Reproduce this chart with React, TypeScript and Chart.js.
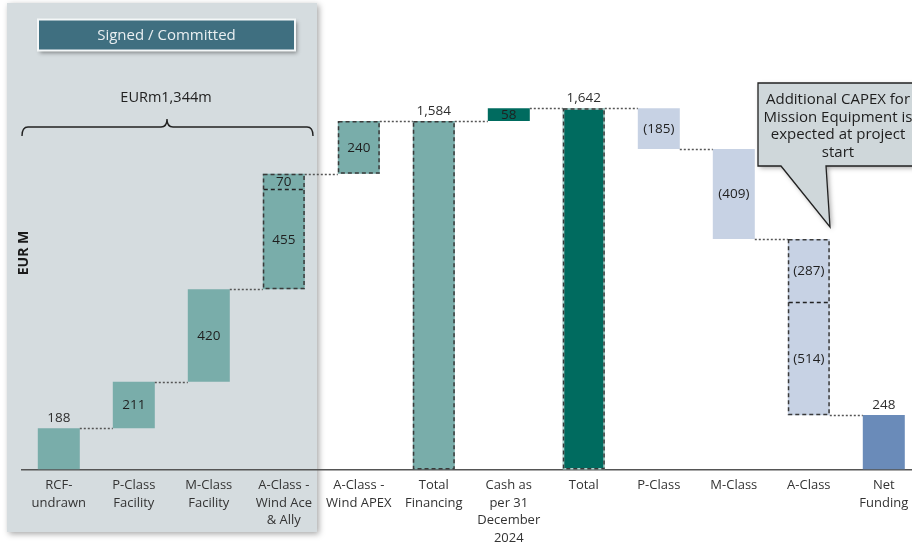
import { useEffect, useRef } from "react";
import { Chart, registerables } from "chart.js";

Chart.register(...registerables);

// Category labels (multi-line)
const categories: string[][] = [
  ["RCF-", "undrawn"],
  ["P-Class", "Facility"],
  ["M-Class", "Facility"],
  ["A-Class -", "Wind Ace", "& Ally"],
  ["A-Class -", "Wind APEX"],
  ["Total", "Financing"],
  ["Cash as", "per 31", "December", "2024"],
  ["Total"],
  ["P-Class"],
  ["M-Class"],
  ["A-Class"],
  ["Net", "Funding"],
];

// Step changes of the waterfall (EUR m); 0 where the bar is a total
const changes = [188, 211, 420, 455, 240, 0, 58, 0, -185, -409, -287, 0];
// Second stacked segment on the same column (A-Class splits)
const secondChanges = [0, 0, 0, 70, 0, 0, 0, 0, 0, 0, -514, 0];
// Totals drawn from the baseline
const totals: (number | null)[] = [null, null, null, null, null, 1584, null, 1642, null, null, null, 248];

const committedLabel = "EURm1,344m";
const panelTitle = "Signed / Committed";
const yAxisTitle = "EUR M";
const calloutLines = ["Additional CAPEX for", "Mission Equipment is", "expected at project", "start"];
const yMax = 2134;

// Styling per column
const fills = [
  "#79adaa", "#79adaa", "#79adaa", "#79adaa", "#79adaa", "#79adaa",
  "#006b5f", "#006b5f",
  "#c7d2e4", "#c7d2e4", "#c7d2e4",
  "#6a8bb9",
];
const dashed = [false, false, false, true, true, true, false, true, false, false, true, false];
const labelAbove = [true, false, false, false, false, true, false, true, false, false, false, true];

const W = 940;
const H = 545;
const FONT = "'Open Sans', 'DejaVu Sans', sans-serif";

function fmt(v: number) {
  return v < 0 ? `(${Math.abs(v).toLocaleString("en-US")})` : v.toLocaleString("en-US");
}

export default function App() {
  const ref = useRef<HTMLCanvasElement | null>(null);

  useEffect(() => {
    const canvas = ref.current;
    if (!canvas) return;

    // Build floating ranges for the waterfall
    const main: [number, number][] = [];
    const second: ([number, number] | null)[] = [];
    const ends: number[] = [];
    const mainVals: number[] = [];
    let run = 0;
    categories.forEach((_, i) => {
      const t = totals[i];
      if (t !== null) {
        main.push([0, t]);
        mainVals.push(t);
        second.push(null);
        run = t;
      } else {
        main.push([run, run + changes[i]]);
        mainVals.push(changes[i]);
        run += changes[i];
        if (secondChanges[i]) {
          second.push([run, run + secondChanges[i]]);
          run += secondChanges[i];
        } else {
          second.push(null);
        }
      }
      ends.push(run);
    });

    const backdrop = {
      id: "backdrop",
      beforeDraw(chart: any) {
        const ctx = chart.ctx;
        ctx.save();
        ctx.fillStyle = "#ffffff";
        ctx.fillRect(0, 0, W, H);
        // committed panel
        ctx.shadowColor = "rgba(0,0,0,0.35)";
        ctx.shadowBlur = 6;
        ctx.shadowOffsetX = 2;
        ctx.shadowOffsetY = 2;
        ctx.fillStyle = "#d5dcdf";
        ctx.fillRect(7, 3, 310, 529);
        // title box
        ctx.shadowColor = "rgba(0,0,0,0.4)";
        ctx.shadowBlur = 4;
        ctx.fillStyle = "#3f6f80";
        ctx.fillRect(38, 19.5, 257, 31);
        ctx.shadowColor = "transparent";
        ctx.strokeStyle = "#f4f7f8";
        ctx.lineWidth = 2;
        ctx.strokeRect(38, 19.5, 257, 31);
        ctx.fillStyle = "#e9eff1";
        ctx.font = `15px ${FONT}`;
        ctx.textAlign = "center";
        ctx.textBaseline = "middle";
        ctx.fillText(panelTitle, 166.5, 35.5);
        // total committed label and brace
        ctx.fillStyle = "#222";
        ctx.font = `14.5px ${FONT}`;
        ctx.fillText(committedLabel, 166, 98);
        ctx.strokeStyle = "#222";
        ctx.lineWidth = 1.4;
        ctx.beginPath();
        ctx.moveTo(22, 136);
        ctx.quadraticCurveTo(22, 127, 28, 127);
        ctx.lineTo(161, 127);
        ctx.quadraticCurveTo(167, 127, 167, 119);
        ctx.quadraticCurveTo(167, 127, 173, 127);
        ctx.lineTo(307, 127);
        ctx.quadraticCurveTo(313, 127, 313, 136);
        ctx.stroke();
        // y axis title
        ctx.save();
        ctx.translate(24.5, 253);
        ctx.rotate(-Math.PI / 2);
        ctx.font = `bold 14px ${FONT}`;
        ctx.fillStyle = "#1a1a1a";
        ctx.fillText(yAxisTitle, 0, 0);
        ctx.restore();
        ctx.restore();
      },
    };

    const overlay = {
      id: "overlay",
      afterDatasetsDraw(chart: any) {
        const ctx = chart.ctx;
        const y = chart.scales.y;
        const m0 = chart.getDatasetMeta(0).data;
        const m1 = chart.getDatasetMeta(1).data;
        ctx.save();

        // connectors between columns
        ctx.strokeStyle = "#555";
        ctx.lineWidth = 1.5;
        ctx.setLineDash([2, 2]);
        for (let i = 0; i < categories.length - 1; i++) {
          const a = m0[i].getProps(["x", "width"], true);
          const b = m0[i + 1].getProps(["x", "width"], true);
          const py = Math.round(y.getPixelForValue(ends[i])) + 0.5;
          ctx.beginPath();
          ctx.moveTo(a.x + a.width / 2, py);
          ctx.lineTo(b.x - b.width / 2, py);
          ctx.stroke();
        }

        // dashed outlines around the whole column, with a dashed divider between segments
        const box = (el: any) => {
          const p = el.getProps(["x", "y", "base", "width"], true);
          return { l: p.x - p.width / 2, r: p.x + p.width / 2, t: Math.min(p.y, p.base), b: Math.max(p.y, p.base) };
        };
        categories.forEach((_, i) => {
          if (!dashed[i]) return;
          const a = box(m0[i]);
          let l = a.l, r = a.r, t = a.t, b = a.b;
          let divider: number | null = null;
          if (second[i]) {
            const s = box(m1[i]);
            t = Math.min(t, s.t);
            b = Math.max(b, s.b);
            divider = Math.round(y.getPixelForValue(second[i]![0])) + 0.5;
          }
          ctx.lineWidth = 1.5;
          if (fills[i] === "#006b5f") {
            ctx.setLineDash([]);
            ctx.strokeStyle = "rgba(235,245,243,0.75)";
            ctx.strokeRect(l + 0.75, t + 0.75, r - l - 1.5, b - t - 1.5);
          }
          ctx.setLineDash([4, 3]);
          ctx.strokeStyle = "#3a3a3a";
          ctx.strokeRect(l + 0.75, t + 0.75, r - l - 1.5, b - t - 1.5);
          if (divider !== null) {
            ctx.strokeStyle = "#222";
            ctx.beginPath();
            ctx.moveTo(l + 1, divider);
            ctx.lineTo(r - 1, divider);
            ctx.stroke();
          }
        });
        ctx.setLineDash([]);

        // value labels
        ctx.font = `13.5px ${FONT}`;
        ctx.textAlign = "center";
        const label = (el: any, v: number, above: boolean) => {
          const p = el.getProps(["x", "y", "base"], true);
          const top = Math.min(p.y, p.base);
          if (above) {
            ctx.fillStyle = "#2e2e2e";
            ctx.textBaseline = "bottom";
            ctx.fillText(fmt(v), p.x, top - 3);
          } else {
            ctx.fillStyle = "#1f1f1f";
            ctx.textBaseline = "middle";
            ctx.fillText(fmt(v), p.x, (p.y + p.base) / 2 + 0.5);
          }
        };
        categories.forEach((_, i) => {
          label(m0[i], mainVals[i], labelAbove[i]);
          if (second[i]) label(m1[i], secondChanges[i], false);
        });
        ctx.restore();
      },
      afterDraw(chart: any) {
        const ctx = chart.ctx;
        ctx.save();
        // callout
        ctx.beginPath();
        ctx.moveTo(758, 83);
        ctx.lineTo(918, 83);
        ctx.lineTo(918, 166);
        ctx.lineTo(826, 166);
        ctx.lineTo(830, 227);
        ctx.lineTo(781, 166);
        ctx.lineTo(758, 166);
        ctx.closePath();
        ctx.shadowColor = "rgba(0,0,0,0.35)";
        ctx.shadowBlur = 5;
        ctx.shadowOffsetX = 2;
        ctx.shadowOffsetY = 2;
        ctx.fillStyle = "#cfd7da";
        ctx.fill();
        ctx.shadowColor = "transparent";
        ctx.strokeStyle = "#222";
        ctx.lineWidth = 1.3;
        ctx.stroke();
        ctx.fillStyle = "#1e1e1e";
        ctx.font = `15px ${FONT}`;
        ctx.textAlign = "center";
        ctx.textBaseline = "middle";
        calloutLines.forEach((t, k) => ctx.fillText(t, 838, 100 + k * 17.5));
        ctx.restore();
      },
    };

    const chart = new Chart(canvas, {
      type: "bar",
      data: {
        labels: categories,
        datasets: [
          {
            data: main as any,
            backgroundColor: fills,
            borderWidth: 0,
            grouped: false,
            barPercentage: 0.56,
            categoryPercentage: 1,
          } as any,
          {
            data: second as any,
            backgroundColor: fills,
            borderWidth: 0,
            grouped: false,
            barPercentage: 0.56,
            categoryPercentage: 1,
          } as any,
        ],
      },
      options: {
        responsive: false,
        animation: false,
        devicePixelRatio: 1,
        layout: { padding: { left: 21.3, right: W - 921.3, top: 0, bottom: 0 } },
        plugins: { legend: { display: false }, tooltip: { enabled: false } },
        scales: {
          x: {
            grid: { display: false, drawTicks: false },
            border: { display: true, color: "#555", width: 1.5 },
            ticks: {
              color: "#333",
              font: { family: FONT, size: 13, lineHeight: 1.35 },
              padding: 7,
              maxRotation: 0,
              autoSkip: false,
            },
            afterFit(scale: any) {
              scale.height = H - 469.5;
            },
          },
          y: { display: false, min: 0, max: yMax },
        },
      },
      plugins: [backdrop, overlay],
    });

    return () => chart.destroy();
  }, []);

  return (
    <div style={{ position: "fixed", left: 0, top: 0, width: 912, height: H, overflow: "hidden", background: "#fff" }}>
      <canvas ref={ref} width={W} height={H} style={{ display: "block", width: W, height: H }} />
    </div>
  );
}
